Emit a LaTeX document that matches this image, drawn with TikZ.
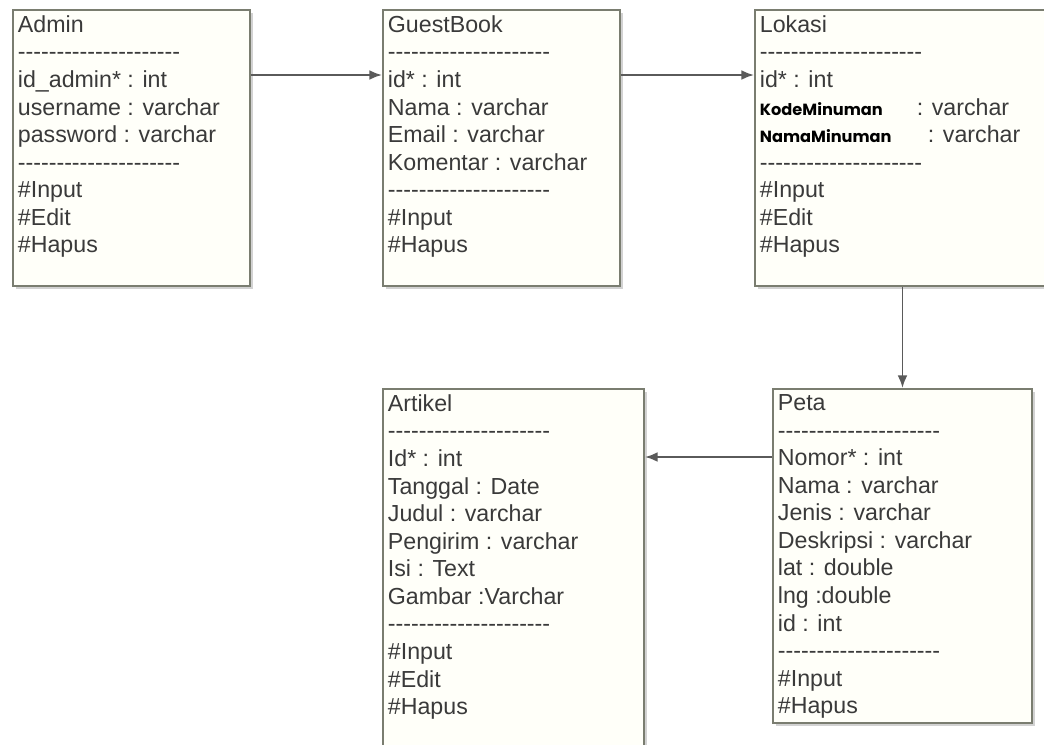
\documentclass[tikz,border=0pt]{standalone}
\usepackage{fontspec}
\setmainfont{Liberation Sans}
\newfontfamily\minfont{Poppins}
\usetikzlibrary{shadows,arrows.meta}

\definecolor{boxline}{HTML}{7A7D70}
\definecolor{boxfill}{HTML}{FFFFF9}
\definecolor{txt}{HTML}{3A3A3A}
\definecolor{arrowc}{HTML}{5A5A5A}

% row of hyphens, kept apart so no dash ligature is formed
\newcommand{\sepline}{-{}-{}-{}-{}-{}-{}-{}-{}-{}-{}-{}-{}-{}-{}-{}-{}-{}-{}-{}-{}-{}}
\newcommand{\kol}[2]{\makebox[#1][l]{\minfont\bfseries\fontsize{11.5}{14}\selectfont\color{black}#2}}

\tikzset{
    classbox/.style={draw=boxline, line width=1.4pt, fill=boxfill,
        drop shadow={shadow xshift=2pt, shadow yshift=-2pt, opacity=0.35},
        rectangle, inner sep=0pt},
    classtext/.style={anchor=north west, inner sep=0pt, align=left,
        text=txt, font=\fontsize{16.5}{19.6}\selectfont},
    link/.style={-{Latex[length=9pt,width=7pt]}, draw=arrowc, line width=1.4pt}
}

\begin{document}
\begin{tikzpicture}[x=0.025cm, y=-0.025cm]

    \clip (0,0) rectangle (1044,744);
    \fill[white] (0,0) rectangle (1044,744);

    \node[classbox, minimum width=237*0.025cm, minimum height=276*0.025cm,
        anchor=north west] (admin) at (12,9){};
    \node[classbox, minimum width=237*0.025cm, minimum height=276*0.025cm,
        anchor=north west] (guest) at (382,9){};
    \node[classbox, minimum width=300*0.025cm, minimum height=276*0.025cm,
        anchor=north west] (lokasi) at (754,9){};
    \node[classbox, minimum width=259*0.025cm, minimum height=334*0.025cm,
        anchor=north west] (peta) at (772,388){};
    \node[classbox, minimum width=261*0.025cm, minimum height=380*0.025cm,
        anchor=north west] (artikel) at (382,388){};

    \node[classtext] (admintext) at ([xshift=4pt,yshift=-4.5pt]admin.north west){Admin\\
        \sepline\\ id\_admin* : int\\ username : varchar\\ password : varchar\\
        \sepline\\ \#Input\\ \#Edit\\ \#Hapus};
    \node[classtext] (guesttext) at ([xshift=4pt,yshift=-4.5pt]guest.north west){GuestBook\\
        \sepline\\ id* : int\\ Nama : varchar\\ Email : varchar\\
        Komentar : varchar\\ \sepline\\ \#Input\\ \#Hapus};
    \node[classtext] (lokasitext) at ([xshift=4pt,yshift=-4.5pt]lokasi.north west){Lokasi\\
        \sepline\\ id* : int\\ \kol{3.92cm}{KodeMinuman}: varchar\\
        \kol{4.2cm}{NamaMinuman}: varchar\\ \sepline\\ \#Input\\ \#Edit\\ \#Hapus};
    \node[classtext] (petatext) at ([xshift=4pt,yshift=-4.5pt]peta.north west){Peta\\
        \sepline\\ Nomor* : int\\ Nama : varchar\\ Jenis : varchar\\
        Deskripsi : varchar\\ lat : double\\ lng :double\\ id : int\\
        \sepline\\ \#Input\\ \#Hapus};
    \node[classtext] (artikeltext) at ([xshift=4pt,yshift=-4.5pt]artikel.north west){Artikel\\
        \sepline\\ Id* : int\\ Tanggal : Date\\ Judul : varchar\\
        Pengirim : varchar\\ Isi : Text\\ Gambar :Varchar\\
        \sepline\\ \#Input\\ \#Edit\\ \#Hapus};

    \coordinate (row1) at (0,75);
    \coordinate (row2) at (0,457);
    \draw[link] (admin.east |- row1) -- (guest.west |- row1);
    \draw[link] (guest.east |- row1) -- (lokasi.west |- row1);
    \draw[link] (lokasi.south -| peta.north) -- (peta.north);
    \draw[link] (peta.west |- row2) -- (artikel.east |- row2);

\end{tikzpicture}
\end{document}
